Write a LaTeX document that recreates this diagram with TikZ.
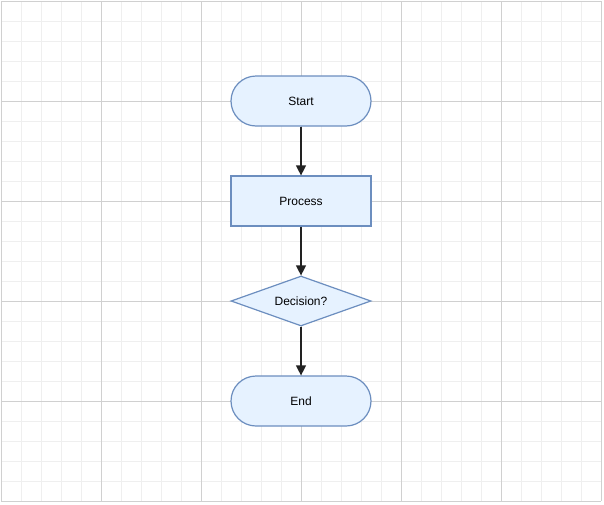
\documentclass[tikz,border=0pt]{standalone}
\usepackage{fontspec}
\setmainfont{Liberation Sans}
\usetikzlibrary{shapes.geometric,arrows.meta}
\definecolor{minorgrid}{HTML}{EFEFEF}
\definecolor{majorgrid}{HTML}{D0D0D0}
\definecolor{nodefill}{HTML}{E6F2FF}
\definecolor{nodedraw}{HTML}{6C8EBF}
\definecolor{arrowcol}{HTML}{222222}
\tikzset{
  base/.style={draw=nodedraw, fill=nodefill, line width=0.9pt, font=\fontsize{9}{11}\selectfont, inner sep=0pt},
  terminal/.style={base, rectangle, rounded corners=18.75pt, minimum width=105pt, minimum height=37.5pt},
  procbox/.style={base, rectangle, minimum width=105pt, minimum height=37.5pt},
  decbox/.style={base, diamond, aspect=2.8, minimum width=105pt, minimum height=37.5pt},
  flow/.style={draw=arrowcol, line width=0.9pt, -{Triangle[width=7.5pt,length=7.5pt]}},
}
\begin{document}
\begin{tikzpicture}[x=0.75pt,y=-0.75pt]
\useasboundingbox (0,0) rectangle (604,504);
\fill[white] (0,0) rectangle (604,504);
% minor grid
\foreach \i in {1,21,...,601} {
  \draw[minorgrid, line width=0.75pt] (\i,1) -- (\i,501);
}
\foreach \j in {1,21,...,501} {
  \draw[minorgrid, line width=0.75pt] (1,\j) -- (601,\j);
}
% major grid
\foreach \i in {1,101,...,601} {
  \draw[majorgrid, line width=0.75pt] (\i,1) -- (\i,501);
}
\foreach \j in {1,101,...,501} {
  \draw[majorgrid, line width=0.75pt] (1,\j) -- (601,\j);
}
\node[terminal] (start) at (301,101) {Start};
\node[procbox] (proc) at (301,201) {Process};
\node[decbox] (dec) at (301,301) {Decision?};
\node[terminal] (end) at (301,401) {End};
\draw[flow] (start) -- (proc);
\draw[flow] (proc) -- (dec);
\draw[flow] (dec) -- (end);
\end{tikzpicture}
\end{document}
